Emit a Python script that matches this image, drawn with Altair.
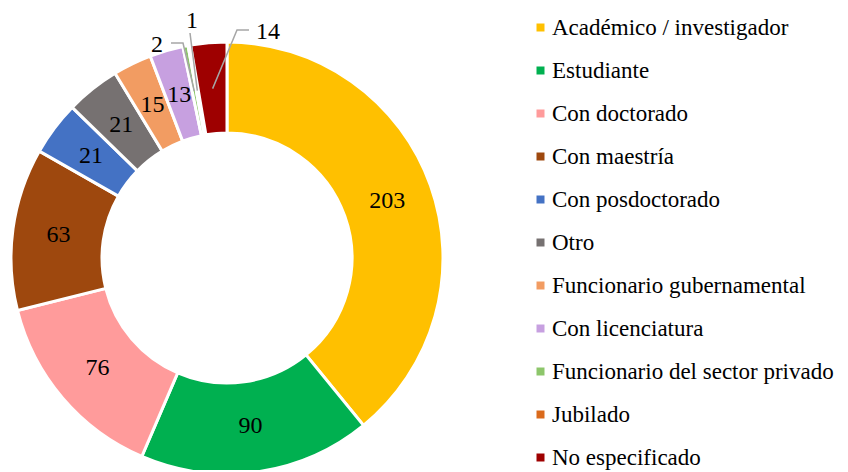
import math
import altair as alt
import pandas as pd

categories = [
    "Académico / investigador",
    "Estudiante",
    "Con doctorado",
    "Con maestría",
    "Con posdoctorado",
    "Otro",
    "Funcionario gubernamental",
    "Con licenciatura",
    "Funcionario del sector privado",
    "Jubilado",
    "No especificado",
]
values = [203, 90, 76, 63, 21, 21, 15, 13, 2, 1, 14]
colors = [
    "#FFC000", "#00B050", "#FF9B9B", "#9E480E", "#4472C4", "#767171",
    "#F29C62", "#C7A0E0", "#8DC66B", "#DA6A1C", "#9E0000",
]
outside = ["Funcionario del sector privado", "Jubilado", "No especificado"]

# layout (view pixels)
CX, CY = 219, 250
R_OUT, R_IN, R_LAB = 216, 125, 170
FONT = "Liberation Serif"
FS = 24
LEG_FS = 23

total = sum(values)
df = pd.DataFrame({"cat": categories, "value": values, "idx": list(range(len(values)))})
df["lab"] = ["" if c in outside else str(v) for c, v in zip(categories, values)]

# slice mid angles (radians, clockwise from top)
mids = {}
acc = 0
for c, v in zip(categories, values):
    mids[c] = (acc + v / 2) / total * 2 * math.pi
    acc += v

def polar(a, r):
    return CX + r * math.sin(a), CY - r * math.cos(a)

# leader line layout: list of relative points after start, label center
leader_layout = {
    "Funcionario del sector privado": ([(-44, -215), (-56, -215)], (-70, -213)),
    "Jubilado": ([(-37, -225)], (-35, -237)),
    "No especificado": ([(10, -228), (22, -228)], (41, -226)),
}
line_rows, lab_rows = [], []
for c in outside:
    pts, lab = leader_layout[c]
    sx, sy = polar(mids[c], R_LAB)
    line_rows.append({"grp": c, "ord": 0, "x": sx, "y": sy})
    for k, (dx, dy) in enumerate(pts):
        line_rows.append({"grp": c, "ord": k + 1, "x": CX + dx, "y": CY + dy})
    lab_rows.append({"x": CX + lab[0], "y": CY + lab[1], "t": str(values[categories.index(c)])})
lines_df = pd.DataFrame(line_rows)
labs_df = pd.DataFrame(lab_rows)

theta = alt.Theta("value:Q", stack=True)

arcs = alt.Chart(df).mark_arc(
    innerRadius=R_IN, outerRadius=R_OUT, stroke="white", strokeWidth=3
).encode(
    theta=theta,
    order=alt.Order("idx:Q"),
    color=alt.Color(
        "cat:N",
        sort=categories,
        scale=alt.Scale(domain=categories, range=colors),
        legend=alt.Legend(
            title=None,
            orient="none",
            legendX=521,
            legendY=8,
            symbolType="square",
            symbolSize=64,
            symbolStrokeWidth=0,
            labelFont=FONT,
            labelFontSize=LEG_FS,
            labelColor="black",
            labelLimit=400,
            labelOffset=0,
            rowPadding=19,
        ),
    ),
    x=alt.value(CX),
    y=alt.value(CY),
)

texts = alt.Chart(df).mark_text(
    radius=R_LAB, font=FONT, fontSize=FS, color="black"
).encode(
    theta=theta,
    order=alt.Order("idx:Q"),
    text="lab:N",
    x=alt.value(CX),
    y=alt.value(CY),
)

leaders = alt.Chart(lines_df).mark_line(color="#A6A6A6", strokeWidth=1.5).encode(
    x=alt.X("x:Q", scale=None),
    y=alt.Y("y:Q", scale=None),
    detail="grp:N",
    order="ord:Q",
)

out_labels = alt.Chart(labs_df).mark_text(
    font=FONT, fontSize=FS, color="black", align="center", baseline="middle"
).encode(
    x=alt.X("x:Q", scale=None),
    y=alt.Y("y:Q", scale=None),
    text="t:N",
)

chart = alt.layer(arcs, texts, leaders, out_labels).properties(
    width=832, height=462, autosize=alt.AutoSizeParams(type="none"), padding=0
).configure_view(stroke=None)

chart.save("out.html", embed_options={"renderer": "svg", "actions": False})
